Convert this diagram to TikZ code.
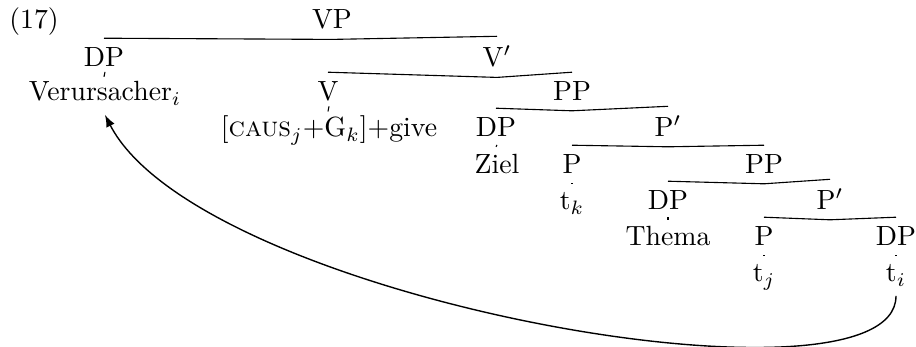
\documentclass[tikz,border=0pt]{standalone}
\begin{document}
\begin{tikzpicture}[x=0.36pt, y=-0.36pt,
  lbl/.style={anchor=base, inner sep=3.33pt},
  branch/.style={line width=0.4pt},
  movearrow/.style={line width=0.5pt, -latex}]
\useasboundingbox (0,0) rectangle (916,347);
% labels
\node[lbl] (n17) at (34,29) {(17)};
\node[lbl] (vp) at (332,29) {VP};
\node[lbl] (dp1) at (104,67) {DP};
\node[lbl] (vbar) at (497,67) {V$'$};
\node[lbl] (ver) at (105,101) {Verursacher$_i$};
\node[lbl] (v) at (328,101) {V};
\node[lbl] (pp1) at (572,101) {PP};
\node[lbl] (caus) at (329,137) {[\textsc{caus}$_j$+G$_k$]+give};
\node[lbl] (dp2) at (496,137) {DP};
\node[lbl] (pbar1) at (668,137) {P$'$};
\node[lbl] (ziel) at (497,174) {Ziel};
\node[lbl] (p1) at (572,174) {P};
\node[lbl] (pp2) at (764,174) {PP};
\node[lbl] (tk) at (572,210) {t$_k$};
\node[lbl] (dp3) at (668,210) {DP};
\node[lbl] (pbar2) at (830,210) {P$'$};
\node[lbl] (thema) at (668,246) {Thema};
\node[lbl] (p2) at (764,246) {P};
\node[lbl] (dp4) at (896,246) {DP};
\node[lbl] (tj) at (764,282) {t$_j$};
\node[lbl] (ti) at (896,282) {t$_i$};
% branches
\foreach \a/\b in {vp/dp1, vp/vbar, dp1/ver, vbar/v, vbar/pp1, v/caus,
  pp1/dp2, pp1/pbar1, dp2/ziel, pbar1/p1, pbar1/pp2, p1/tk,
  pp2/dp3, pp2/pbar2, dp3/thema, pbar2/p2, pbar2/dp4, p2/tj, dp4/ti}
  \draw[branch] (\a.south) -- (\b.north);
% movement arrow
\draw[movearrow] (ti.south) .. controls +(0,125) and +(95,186) .. (ver.south);
\end{tikzpicture}
\end{document}
